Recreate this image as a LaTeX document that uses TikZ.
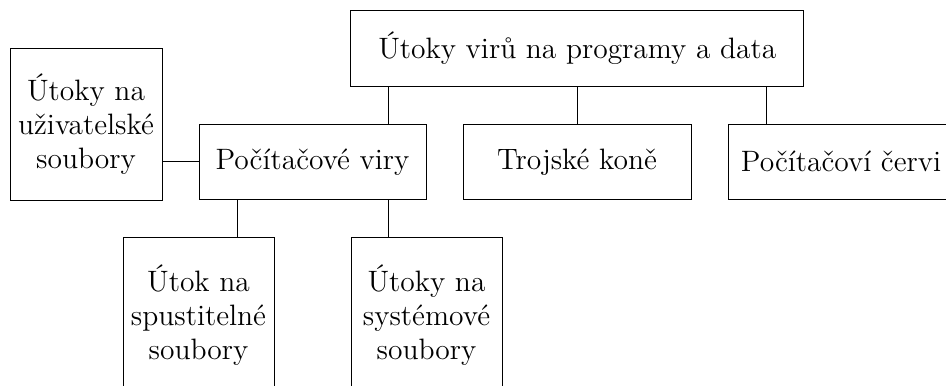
\documentclass[tikz,border=0pt]{standalone}
\begin{document}
\begin{tikzpicture}[x=0.5pt,y=-0.5pt,
  box/.style={draw, line width=0.45pt, inner sep=0pt, align=center,
    font=\fontsize{14.75}{17}\selectfont},
  link/.style={line width=0.45pt}]
\clip (0,0) rectangle (946,385);

% boxes
\node[box, minimum width=226.6pt, minimum height=37.7pt] (top) at (577.3,48.3)
  {Útoky virů na programy a data};
\node[box, minimum width=76pt, minimum height=76pt] (users) at (86,124)
  {Útoky na\\uživatelské\\soubory};
\node[box, minimum width=113.5pt, minimum height=37.8pt] (viry) at (312.5,161.8)
  {Počítačové viry};
\node[box, minimum width=114pt, minimum height=37.8pt] (troj) at (577,161.8)
  {Trojské koně};
\node[box, minimum width=113pt, minimum height=37.8pt] (cervi) at (841,161.8)
  {Počítačoví červi};
\node[box, minimum width=75.5pt, minimum height=78pt] (spust) at (198.5,315)
  {Útok na\\spustitelné\\soubory};
\node[box, minimum width=75.5pt, minimum height=78pt] (sys) at (426.5,315)
  {Útoky na\\systémové\\soubory};

% attachment columns for the connectors
\coordinate (cA) at (388,0);
\coordinate (cB) at (766,0);
\coordinate (cC) at (237,0);

% connectors
\draw[link] (top.south -| cA) -- (viry.north -| cA);
\draw[link] (top.south -| troj) -- (troj.north);
\draw[link] (top.south -| cB) -- (cervi.north -| cB);
\draw[link] (users.east |- viry) -- (viry.west);
\draw[link] (viry.south -| cC) -- (spust.north -| cC);
\draw[link] (viry.south -| cA) -- (sys.north -| cA);
\end{tikzpicture}
\end{document}
